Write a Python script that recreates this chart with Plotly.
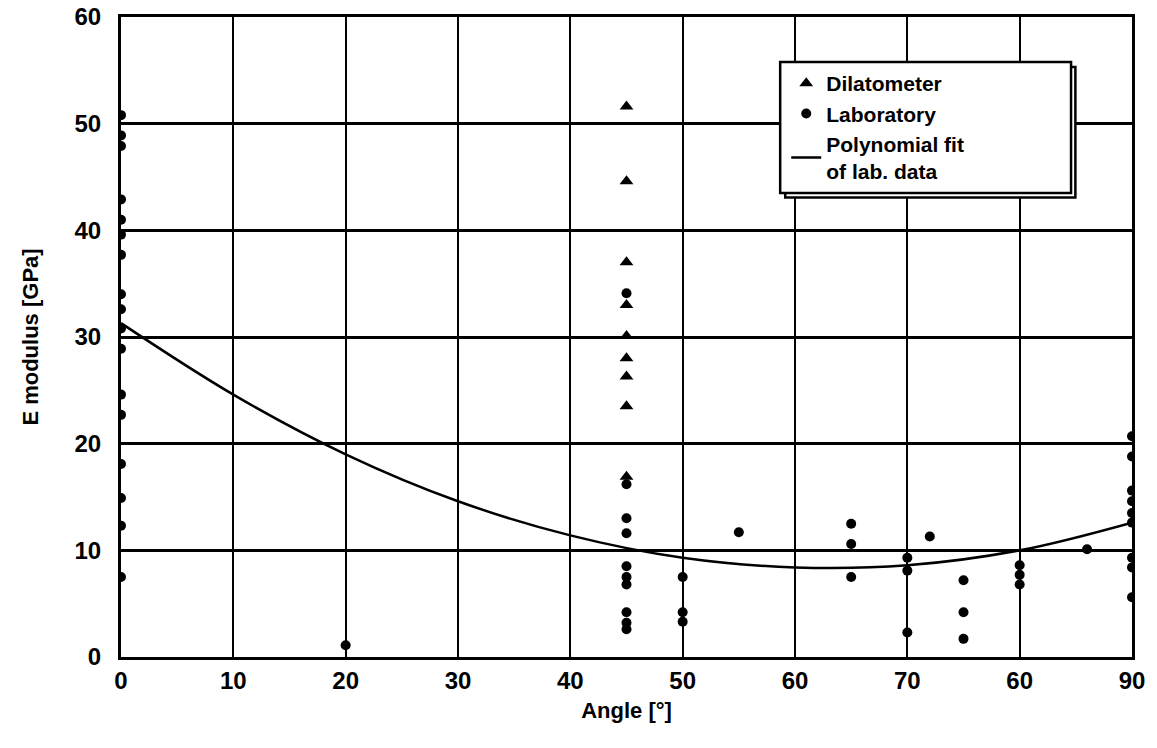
import plotly.graph_objects as go

# Dilatometer measurements (angle in degrees, E modulus in GPa)
dil_angle = [45, 45, 45, 45, 45, 45, 45, 45, 45]
dil_e = [51.6, 44.6, 37.0, 33.0, 30.1, 28.0, 26.3, 23.5, 16.9]

# Laboratory measurements
lab_angle = ([0] * 17
             + [20]
             + [45] * 10
             + [50] * 3
             + [55]
             + [65] * 3
             + [70] * 3
             + [72]
             + [75] * 3
             + [80] * 3
             + [86]
             + [90] * 9)
lab_e = ([50.8, 48.9, 47.9, 42.9, 41.0, 39.6, 37.7, 34.0, 32.6, 30.8, 28.9,
          24.6, 22.7, 18.1, 14.9, 12.3, 7.5]
         + [1.1]
         + [34.1, 16.2, 13.0, 11.6, 8.5, 7.5, 6.8, 4.2, 3.2, 2.6]
         + [7.5, 4.2, 3.3]
         + [11.7]
         + [12.5, 10.6, 7.5]
         + [9.3, 8.1, 2.3]
         + [11.3]
         + [7.2, 4.2, 1.7]
         + [8.6, 7.7, 6.8]
         + [10.1]
         + [20.7, 18.8, 15.6, 14.6, 13.5, 12.6, 9.3, 8.4, 5.6])

# Polynomial fit of the laboratory data, sampled along the angle axis
fit_angle = [0, 10, 20, 30, 40, 50, 60, 70, 80, 90]
fit_e = [31.3, 24.6, 19.0, 14.6, 11.4, 9.3, 8.4, 8.6, 10.0, 12.6]

x_tickvals = [0, 10, 20, 30, 40, 50, 60, 70, 80, 90]
x_ticktext = ["0", "10", "20", "30", "40", "50", "60", "70", "60", "90"]
y_tickvals = [0, 10, 20, 30, 40, 50, 60]

FONT = "Liberation Sans, Arial, sans-serif"

fig = go.Figure()

fig.add_trace(go.Scatter(
    x=fit_angle, y=fit_e, mode="lines", line_shape="spline",
    line=dict(color="black", width=2.5),
    name="Polynomial fit<br>of lab. data", legendrank=3,
))
fig.add_trace(go.Scatter(
    x=dil_angle, y=dil_e, mode="markers",
    marker=dict(symbol="triangle-up", size=12, color="black"),
    name="Dilatometer", legendrank=1,
))
fig.add_trace(go.Scatter(
    x=lab_angle, y=lab_e, mode="markers",
    marker=dict(symbol="circle", size=10, color="black"),
    name="Laboratory", legendrank=2,
))

tick_font = dict(family=FONT, size=24, color="black", weight="bold")
title_font = dict(family=FONT, size=22, color="black", weight="bold")

fig.update_layout(
    width=1157, height=748,
    margin=dict(l=121, r=25, t=17, b=91),
    paper_bgcolor="white", plot_bgcolor="white",
    font=dict(family=FONT, color="black"),
    xaxis=dict(
        range=[0, 90], tickvals=x_tickvals, ticktext=x_ticktext,
        showgrid=True, gridcolor="black", gridwidth=2,
        showline=True, linecolor="black", linewidth=3, mirror=True,
        zeroline=False, ticks="", tickfont=tick_font, ticklabelstandoff=0,
        automargin=False,
        title=dict(text="Angle [°]", standoff=10, font=title_font),
    ),
    yaxis=dict(
        range=[0, 60], tickvals=y_tickvals,
        showgrid=True, gridcolor="black", gridwidth=3,
        showline=True, linecolor="black", linewidth=3, mirror=True,
        zeroline=False, ticks="", tickfont=tick_font, ticklabelstandoff=12,
        automargin=False,
        title=dict(text="E modulus [GPa]", standoff=30, font=title_font),
    ),
    legend=dict(
        x=0.658, y=0.928, xanchor="left", yanchor="top",
        bgcolor="rgba(0,0,0,0)", borderwidth=0,
        font=dict(family=FONT, size=21, color="black", weight="bold"),
        itemwidth=30, tracegroupgap=2,
    ),
)

# Legend frame with a small drop shadow
fig.add_shape(type="rect", xref="paper", yref="paper",
              x0=0.657, x1=0.944, y0=0.718, y1=0.922, layer="above",
              line=dict(color="black", width=2.5), fillcolor="white")
fig.add_shape(type="rect", xref="paper", yref="paper",
              x0=0.652, x1=0.9397, y0=0.725, y1=0.9297, layer="above",
              line=dict(color="black", width=2.5), fillcolor="white")

fig.write_html("out.html")
